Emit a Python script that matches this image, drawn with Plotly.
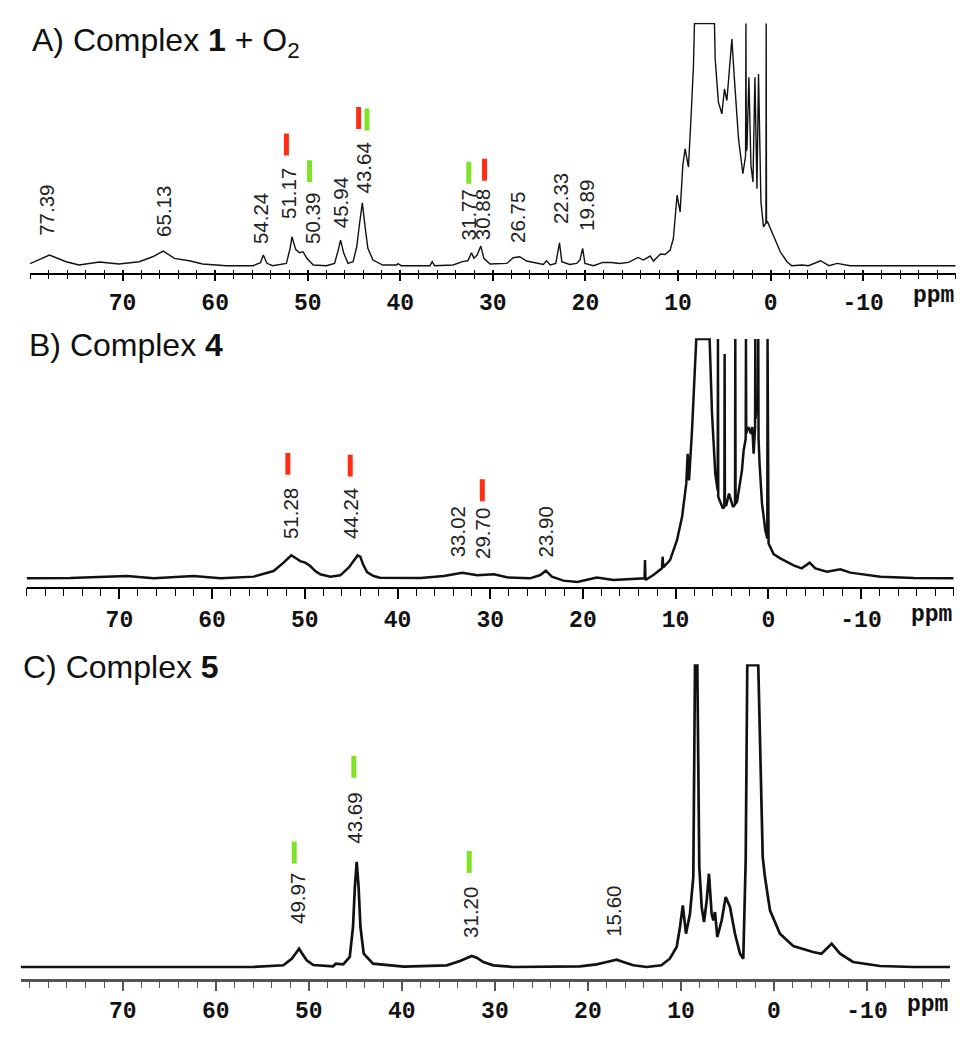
import plotly.graph_objects as go

# ---------------- data (ppm, intensity in arbitrary units) ----------------
# Panel A: Complex 1 + O2  (off-scale points recorded at the plot ceiling 243)
A_spectrum = [
    (80.0, 2), (77.9, 10.7), (76.1, 4), (74.7, 0.7), (72.5, 3.7), (70.4, 1.7), (68.2, 4),
    (66.75, 9), (65.6, 14.7), (64.4, 7.4), (62.8, 5), (61.35, 1.7), (58.8, 0), (55.9, 0),
    (55.1, 3), (54.8, 10.7), (54.4, 2.4), (53.8, 0), (52.3, 2.4), (51.9, 17.4), (51.7, 29),
    (51.3, 16.4), (50.9, 13), (50.5, 14), (50.1, 7.4), (49.4, 0.7), (48.0, 0), (47.1, 2.4),
    (46.7, 15.7), (46.45, 25.7), (46.1, 12.4), (45.65, 2.4), (45.1, 4), (44.7, 19),
    (44.4, 42.4), (44.1, 63), (43.8, 39), (43.5, 17.4), (42.95, 5.7), (41.9, 0.7),
    (40.4, 0.7), (40.25, 2), (39.9, 0), (36.8, 0), (36.55, 4), (36.3, 0), (34.3, 0.7),
    (33.2, 4.4), (32.7, 5), (32.3, 13), (32.05, 7.4), (31.7, 10.7), (31.3, 19.7),
    (30.97, 7.4), (30.3, 1.7), (28.5, 2.3), (27.8, 8), (27.1, 9), (26.35, 4.7), (25.3, 2.3),
    (24.55, 1.3), (24.2, 5), (23.8, 0.7), (23.2, 2.3), (22.8, 23), (22.55, 4), (21.7, 1.3),
    (20.95, 2.3), (20.6, 5.7), (20.3, 17.3), (20.05, 2.3), (19.15, 0), (18.1, 3.3),
    (17.2, 3.3), (16.3, 2.3), (15.35, 3.3), (14.8, 6.3), (14.3, 8.3), (13.75, 5.7),
    (13.0, 9.7), (12.65, 4.7), (11.9, 11.7), (11.4, 11.3), (10.85, 15.7), (10.5, 27.3),
    (10.1, 70.7), (9.77, 54), (9.48, 100.7), (9.23, 117.3), (8.87, 99), (8.58, 150.7),
    (8.33, 200.7), (8.22, 243), (6.06, 243), (5.98, 207), (5.63, 164), (5.26, 152.3),
    (4.98, 177.3), (4.72, 165.7), (4.44, 200.7), (4.18, 227.3), (3.93, 190.7), (3.46, 127.3),
    (2.99, 92.3), (2.70, 110), (2.66, 243), (2.62, 115), (2.55, 117.3), (2.34, 189),
    (2.12, 100.7), (1.9, 84), (1.69, 189), (1.47, 77.3), (1.3, 192.3), (1.04, 64),
    (0.76, 39), (0.54, 42.3), (0.50, 42), (0.47, 243), (0.44, 43), (0.32, 44),
    (-0.32, 30.7), (-1.05, 14), (-1.77, 4), (-2.3, 0), (-3.4, 0.7), (-4.1, 0), (-5.4, 5),
    (-6.3, 0), (-7.2, 2.3), (-7.9, 1.3), (-8.6, 0), (-9.35, 0), (-20.0, 0),
]
# Panel B: Complex 4 (off-scale points at ceiling 240)
B_spectrum = [
    (80.0, 0), (75.3, 0.3), (69.2, 2.3), (66.3, 0), (62.0, 2.3), (59.1, 0), (55.5, 1.7),
    (53.37, 7.3), (52.29, 15.7), (51.75, 20.7), (51.46, 23), (51.03, 20.7), (50.49, 17.3),
    (49.95, 15.7), (49.41, 12.3), (48.87, 7.3), (48.33, 4), (47.25, 1.7), (46.17, 3),
    (45.27, 10.7), (44.73, 17.3), (44.3, 23), (44.01, 21.7), (43.72, 14), (43.29, 6.3),
    (42.58, 2.3), (41.9, 0.7), (37.5, 0.3),
    (35.0, 2.3), (33.0, 5.7), (31.4, 3), (29.6, 4), (28.2, 1), (25.7, 0), (24.6, 3.3),
    (24.0, 7.7), (23.35, 1.7), (22.1, -2.3), (20.6, -3.7), (18.5, 0.7), (16.7, -1.7),
    (14.2, 0), (13.35, 0), (13.3, 18.3), (13.25, -1.7), (12.4, 3.3), (11.47, 10),
    (11.4, 21.7), (11.33, 11), (10.6, 18.3), (9.85, 38.3), (9.3, 61.7), (8.85, 95),
    (8.7, 125), (8.55, 98.3), (8.23, 148.3), (7.98, 198.3), (7.77, 240), (6.33, 240),
    (6.07, 165), (5.72, 105), (5.46, 88), (5.43, 240), (5.40, 82), (5.26, 78.3),
    (4.89, 70), (4.74, 72), (4.71, 225), (4.68, 73), (4.53, 73.3), (4.24, 85),
    (3.81, 71.7), (3.59, 74), (3.56, 240), (3.53, 75), (3.38, 76.7), (3.1, 91.7),
    (2.84, 108.3), (2.66, 128.3), (2.44, 140), (2.41, 240), (2.38, 145), (2.3, 148.3),
    (2.13, 151.7), (1.87, 145), (1.73, 151.7), (1.58, 125), (1.43, 150), (1.4, 240),
    (1.37, 160), (1.22, 181.7), (1.11, 170), (1.08, 240), (1.05, 140), (0.94, 115),
    (0.68, 75), (0.32, 48.3), (0.14, 41.7), (0.11, 40), (0.08, 240), (0.05, 37),
    (-0.03, 35), (-0.57, 24.3), (-1.29, 20), (-2.73, 13), (-3.6, 10), (-4.46, 15.7),
    (-5.07, 10), (-6.33, 6.7), (-7.77, 9), (-8.85, 5.7), (-12.1, 1.7), (-15.7, 0.3),
    (-20.0, 0),
]
# Panel C: Complex 5 (off-scale points at ceiling 302)
C_spectrum = [
    (80.97, 0), (56.0, 0), (52.74, 1.7), (51.84, 8.3), (51.3, 15), (51.05, 18.3),
    (50.76, 14), (50.23, 6.7), (49.52, 2), (47.4, 0.7), (47.1, 3.3), (46.3, 2.7),
    (45.6, 10), (45.25, 40), (45.05, 80), (44.85, 105.3), (44.65, 80), (44.45, 40),
    (44.1, 13.3), (43.1, 3.3), (39.8, 0.3), (35.18, 1.7), (33.75, 6), (33.03, 9.3),
    (32.49, 11), (31.95, 9.3), (31.24, 5), (30.17, 1.7), (28.0, 0), (20.85, 0.7),
    (19.06, 2.7), (17.98, 5), (16.91, 7.3), (16.2, 5), (15.12, 1.7), (13.68, 0),
    (12.1, 1.7), (11.2, 8.3), (10.46, 20),
    (10.1, 40), (9.8, 61.7), (9.46, 33.3), (9.03, 53.3), (8.67, 90), (8.49, 302),
    (8.24, 302), (8.03, 100), (7.77, 60), (7.52, 45), (7.23, 66.7), (6.99, 93.3),
    (6.7, 53.3), (6.52, 46.7), (6.34, 55), (6.09, 30), (5.62, 46.7), (5.19, 70),
    (4.73, 60), (4.19, 33.3), (3.65, 13.3), (3.3, 8.3), (3.04, 106.7), (2.87, 302),
    (1.69, 302), (1.32, 166.7), (1.21, 110), (0.97, 90), (0.43, 56.7), (-0.64, 33.3),
    (-2.07, 21), (-4.2, 15), (-5.1, 13.3), (-6.2, 23.3), (-7.1, 13.3), (-8.5, 5),
    (-11.4, 1), (-15.0, 0), (-18.92, 0),
]

# peak labels: text, ppm position, height of label foot
A_labels = ["77.39", "65.13", "54.24", "51.17", "50.39", "45.94", "43.64",
            "31.77", "30.88", "26.75", "22.33", "19.89"]
A_label_ppm = [78.25, 65.6, 55.1, 52.1, 49.5, 46.45, 43.95, 32.6, 31.1, 27.35, 22.7, 19.9]
A_label_y = [27.7, 26.7, 19.7, 44.7, 19.7, 35.7, 70.7, 23.7, 23.7, 20.7, 39.7, 32.7]

B_labels = ["51.28", "44.24", "33.02", "29.70", "23.90"]
B_label_ppm = [51.48, 45.0, 33.5, 30.77, 24.0]
B_label_y = [37, 37, 19.3, 17, 19.3]

C_labels = ["49.97", "43.69", "31.20", "15.60"]
C_label_ppm = [51.3, 45.1, 32.6, 17.27]
C_label_y = [41.3, 121.3, 27.3, 28]

# assignment bars: (ppm, height of bar centre)
A_red = [(52.3, 121.7), (44.5, 148.2), (30.9, 96.2)]
A_green = [(49.8, 94.7), (43.6, 146.7), (32.6, 93.2)]
B_red = [(51.83, 114.8), (45.1, 113.1), (30.85, 88.3)]
C_green = [(51.57, 114.5), (45.16, 200.3), (32.76, 105.1)]

tick_vals = [70, 60, 50, 40, 30, 20, 10, 0, -10]
tick_text = ["70", "60", "50", "40", "30", "20", "10", "0", "-10"]

titles = ["A) Complex <b>1</b> + O<sub>2</sub>", "B) Complex <b>4</b>", "C) Complex <b>5</b>"]

# ---------------- styling / layout ----------------
# the page body adds an 8px margin, so the figure is drawn 8px inside the screenshot
OFF = 8
W, H = 967, 1042
RED = "#ff2d14"
GREEN = "#7ee226"
BAR_HALF = 11

panels = [
    dict(spec=A_spectrum, labels=A_labels, lppm=A_label_ppm, ly=A_label_y,
         bars=[(A_red, RED), (A_green, GREEN)],
         xpx=(30, 955.7), ypx=(273, 22.7), xr=(80, -20), yr=(-7.3, 243.8),
         lw=1.4, axis_color="black", axis_w=1.5, tl_major=6, tl_minor=4, stand=2,
         title_y=42, ppm_y=296),
    dict(spec=B_spectrum, labels=B_labels, lppm=B_label_ppm, ly=B_label_y,
         bars=[(B_red, RED)],
         xpx=(26.7, 953.7), ypx=(586.7, 338.3), xr=(80, -20), yr=(-8.4, 240.8),
         lw=2.5, axis_color="black", axis_w=1.5, tl_major=11, tl_minor=8, stand=0,
         title_y=345, ppm_y=615),
    dict(spec=C_spectrum, labels=C_labels, lppm=C_label_ppm, ly=C_label_y,
         bars=[(C_green, GREEN)],
         xpx=(20.7, 950), ypx=(979, 664.3), xr=(80.97, -18.92), yr=(-12, 302.8),
         lw=2.7, axis_color="#555555", axis_w=2.5, tl_major=9, tl_minor=6, stand=0,
         title_y=667, ppm_y=1005),
]


def px_x(v):
    return (v - OFF) / W


def px_y(v):
    return 1 - (v - OFF) / H


fig = go.Figure()
annotations = []
layout_axes = {}

for i, p in enumerate(panels, start=1):
    xa = "x" if i == 1 else f"x{i}"
    ya = "y" if i == 1 else f"y{i}"
    ppm = [pt[0] for pt in p["spec"]]
    inten = [pt[1] for pt in p["spec"]]
    fig.add_trace(go.Scatter(x=ppm, y=inten, mode="lines", xaxis=xa, yaxis=ya,
                             line=dict(color="#111111", width=p["lw"]),
                             hoverinfo="skip", showlegend=False))
    for bars, col in p["bars"]:
        bx, by = [], []
        for (bp, bh) in bars:
            bx += [bp, bp, None]
            by += [bh - BAR_HALF, bh + BAR_HALF, None]
        fig.add_trace(go.Scatter(x=bx, y=by, mode="lines", xaxis=xa, yaxis=ya,
                                 line=dict(color=col, width=5),
                                 hoverinfo="skip", showlegend=False))
    for t, lx, lyv in zip(p["labels"], p["lppm"], p["ly"]):
        annotations.append(dict(x=lx, y=lyv, xref=xa, yref=ya, text=t, showarrow=False,
                                textangle=-90, xanchor="center", yanchor="bottom",
                                font=dict(family="Liberation Sans, Arial", size=20.5,
                                          color="#222222")))
    # title
    annotations.append(dict(x=px_x(p["xpx"][0]), y=px_y(p["title_y"]), xref="paper",
                            yref="paper", text=titles[i - 1], showarrow=False,
                            xanchor="left", yanchor="middle",
                            font=dict(family="Liberation Sans, Arial", size=32,
                                      color="#111111")))
    # ppm unit label
    annotations.append(dict(x=p["xr"][1], y=px_y(p["ppm_y"]), xref=xa, yref="paper",
                            text="ppm", showarrow=False, xanchor="right",
                            yanchor="middle",
                            font=dict(family="Liberation Mono", size=23,
                                      weight="bold", color="#111111")))
    xkey = "xaxis" if i == 1 else f"xaxis{i}"
    ykey = "yaxis" if i == 1 else f"yaxis{i}"
    layout_axes[xkey] = dict(
        domain=[px_x(p["xpx"][0]), px_x(p["xpx"][1])], range=list(p["xr"]),
        anchor=ya, showgrid=False, zeroline=False, showline=True,
        linecolor=p["axis_color"], linewidth=p["axis_w"],
        tickmode="array", tickvals=tick_vals, ticktext=tick_text, ticks="outside",
        ticklen=p["tl_major"], tickwidth=1.5, tickcolor=p["axis_color"],
        tickfont=dict(family="Liberation Mono", size=23, weight="bold", color="#111111"),
        ticklabelstandoff=p["stand"],
        minor=dict(tickmode="linear", tick0=0, dtick=2, ticks="outside",
                   ticklen=p["tl_minor"], tickwidth=1.3, tickcolor=p["axis_color"],
                   showgrid=False),
        fixedrange=True,
    )
    layout_axes[ykey] = dict(
        domain=[px_y(p["ypx"][0]), px_y(p["ypx"][1])], range=list(p["yr"]),
        anchor=xa, visible=False, showgrid=False, zeroline=False, fixedrange=True,
    )

# panel A ticks cross the axis line: an overlaid axis adds the inner half of each tick
fig.add_trace(go.Scatter(x=[None], y=[None], xaxis="x4", yaxis="y", mode="lines",
                         hoverinfo="skip", showlegend=False))
layout_axes["xaxis4"] = dict(
    overlaying="x", anchor="y", range=list(panels[0]["xr"]), side="bottom",
    showgrid=False, zeroline=False, showline=False, showticklabels=False,
    tickmode="array", tickvals=tick_vals, ticks="inside", ticklen=3, tickwidth=1.5,
    tickcolor="black",
    minor=dict(tickmode="linear", tick0=0, dtick=2, ticks="inside", ticklen=3,
               tickwidth=1.3, tickcolor="black", showgrid=False),
    fixedrange=True,
)

fig.update_layout(width=W, height=H, margin=dict(l=0, r=0, t=0, b=0),
                  paper_bgcolor="white", plot_bgcolor="white", showlegend=False,
                  annotations=annotations, **layout_axes)

fig.write_html("out.html")
